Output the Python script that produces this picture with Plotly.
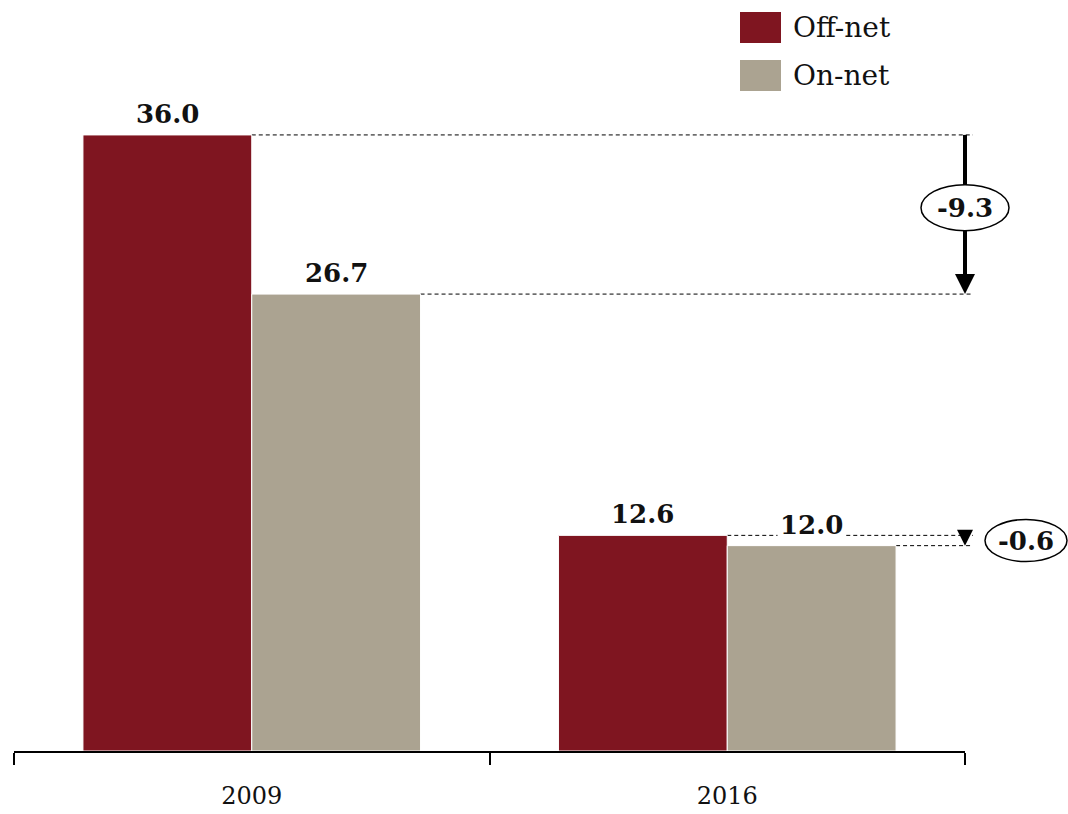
import plotly.graph_objects as go

# Average price per minute (values shown above the bars)
years = ["2009", "2016"]
off_net = [36.0, 12.6]
on_net = [26.7, 12.0]
series_names = ["Off-net", "On-net"]

OFF_COLOR = "#7f1520"
ON_COLOR = "#aba391"
FONT = "Georgia, 'DejaVu Serif', serif"

W, H = 1068, 814
M_L, M_R, M_T, M_B = 14, 103, 10, 63
Y_MAX = 43.3
X_MIN, X_MAX = -0.5, 1.5
BARGAP = 0.29
HALF = (1 - BARGAP) / 2  # width of one bar in category units
PLOT_W = W - M_L - M_R


def px_x(px):
    return (px - M_L) / PLOT_W


def px_y(py):
    return (H - M_B - py) / (H - M_T - M_B)


def cat_to_paper(xc):
    return (xc - X_MIN) / (X_MAX - X_MIN)


def val_to_paper(v):
    return v / Y_MAX


fig = go.Figure()
fig.add_trace(go.Bar(x=years, y=off_net, name=series_names[0],
                     marker=dict(color=OFF_COLOR, line=dict(color="white", width=1))))
fig.add_trace(go.Bar(x=years, y=on_net, name=series_names[1],
                     marker=dict(color=ON_COLOR, line=dict(color="white", width=1))))

shapes = []
annotations = []
LABEL_FONT = dict(family=FONT, size=26, color="#111")

# value labels above each bar
for i, (a, b) in enumerate(zip(off_net, on_net)):
    for val, xc in ((a, i - HALF / 2), (b, i + HALF / 2)):
        annotations.append(dict(
            x=xc, y=val, xref="x", yref="y", text=f"<b>{val:.1f}</b>",
            showarrow=False, yanchor="bottom", yshift=3, bgcolor="white",
            borderpad=2, font=LABEL_FONT))

X_END = cat_to_paper(1.5) + 8 / PLOT_W
dash = dict(color="#000", width=1, dash="4px,3px")

# dashed guides from the bar tops to the difference markers
for i, (a, b) in enumerate(zip(off_net, on_net)):
    shapes.append(dict(type="line", xref="paper", yref="paper",
                       x0=cat_to_paper(i), x1=X_END,
                       y0=val_to_paper(a), y1=val_to_paper(a), line=dash, layer="below"))
    shapes.append(dict(type="line", xref="paper", yref="paper",
                       x0=cat_to_paper(i + HALF), x1=X_END,
                       y0=val_to_paper(b), y1=val_to_paper(b), line=dash, layer="below"))

XR = cat_to_paper(1.5)

# 2009 difference: thick arrow with an oval label
d0 = on_net[0] - off_net[0]
mid0 = (off_net[0] + on_net[0]) / 2 + 0.4
shapes.append(dict(type="line", xref="paper", yref="paper", x0=XR, x1=XR,
                   y0=val_to_paper(off_net[0]), y1=val_to_paper(on_net[0] + 0.9),
                   line=dict(color="black", width=4)))
annotations.append(dict(x=1.5, y=on_net[0], ax=1.5, ay=on_net[0] + 1.3,
                        xref="x", yref="y", axref="x", ayref="y", text="",
                        showarrow=True, arrowhead=2, arrowsize=1.0,
                        arrowwidth=4, arrowcolor="black"))
shapes.append(dict(type="circle", xref="paper", yref="paper", xsizemode="pixel",
                   ysizemode="pixel", xanchor=XR, yanchor=val_to_paper(mid0),
                   x0=-44, x1=44, y0=-23, y1=23, fillcolor="white",
                   line=dict(color="black", width=1.5)))
annotations.append(dict(x=XR, y=val_to_paper(mid0), xref="paper", yref="paper",
                        xanchor="center", yanchor="middle",
                        text=f"<b>{d0:.1f}</b>", showarrow=False, font=LABEL_FONT))

# 2016 difference: small arrowhead with an oval label beside it
d1 = on_net[1] - off_net[1]
mid1 = (off_net[1] + on_net[1]) / 2
annotations.append(dict(x=1.5, y=on_net[1], ax=1.5, ay=off_net[1] + 0.05,
                        xref="x", yref="y", axref="x", ayref="y", text="",
                        showarrow=True, arrowhead=2, arrowsize=1.6,
                        arrowwidth=2, arrowcolor="black"))
x_oval = XR + 61 / PLOT_W
shapes.append(dict(type="circle", xref="paper", yref="paper", xsizemode="pixel",
                   ysizemode="pixel", xanchor=x_oval, yanchor=val_to_paper(mid1),
                   x0=-41, x1=41, y0=-21, y1=21, fillcolor="white",
                   line=dict(color="black", width=1.5)))
annotations.append(dict(x=x_oval, y=val_to_paper(mid1), xref="paper", yref="paper",
                        xanchor="center", yanchor="middle",
                        text=f"<b>{d1:.1f}</b>", showarrow=False, font=LABEL_FONT))

# legend drawn as swatches + labels
for k, (name, col) in enumerate(zip(series_names, [OFF_COLOR, ON_COLOR])):
    top = 12 + 48 * k
    shapes.append(dict(type="rect", xref="paper", yref="paper",
                       x0=px_x(740), x1=px_x(781), y0=px_y(top + 31), y1=px_y(top),
                       fillcolor=col, line=dict(width=0)))
    annotations.append(dict(x=px_x(791), y=px_y(top + 15.5), xref="paper",
                            yref="paper", text=name, showarrow=False,
                            xanchor="left", yanchor="middle",
                            font=dict(family=FONT, size=28, color="#111")))

fig.update_layout(
    width=W, height=H,
    margin=dict(l=M_L, r=M_R, t=M_T, b=M_B),
    barmode="group", bargap=BARGAP, bargroupgap=0,
    showlegend=False,
    plot_bgcolor="white", paper_bgcolor="white",
    shapes=shapes, annotations=annotations,
    xaxis=dict(type="category", range=[X_MIN, X_MAX], showline=True,
               linecolor="black", linewidth=1.5, ticks="outside",
               tickson="boundaries", ticklen=12, tickwidth=1.5,
               tickcolor="black", showgrid=False, ticklabelstandoff=22,
               automargin=False,
               tickfont=dict(family=FONT, size=24, color="#111")),
    yaxis=dict(range=[0, Y_MAX], visible=False, showgrid=False, automargin=False),
)

fig.write_html("out.html")
